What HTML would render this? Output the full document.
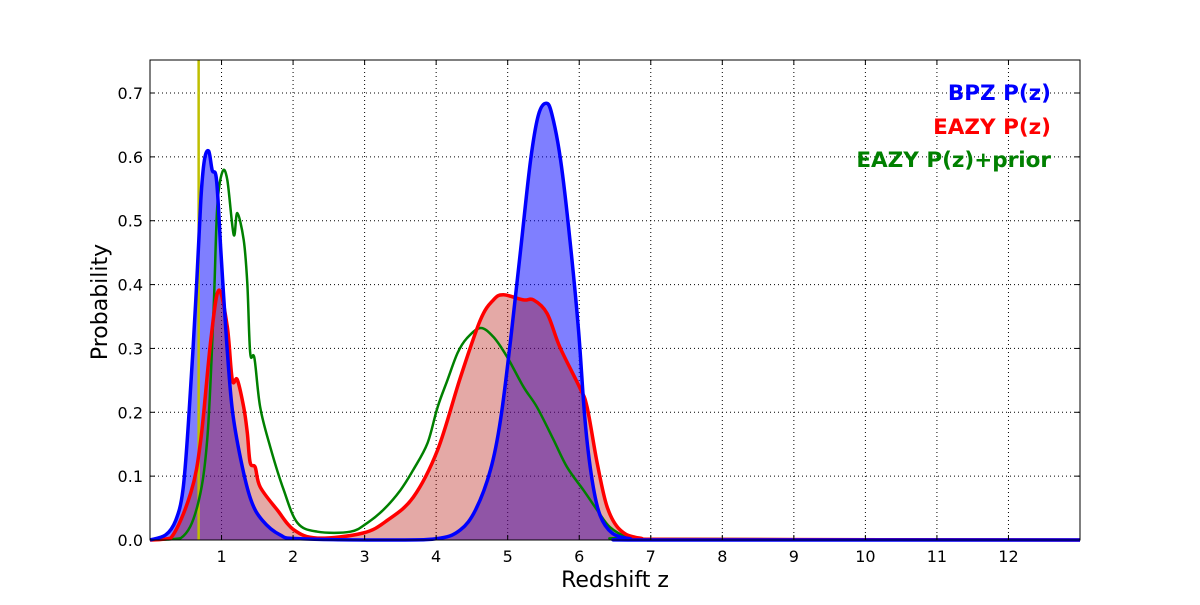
<!DOCTYPE html>
<html><head><meta charset="utf-8"><style>
body{margin:0;background:#fff;}
svg text{font-family:"DejaVu Sans","Liberation Sans",sans-serif;}
</style></head><body>
<svg id="chart" width="1200" height="600" xmlns="http://www.w3.org/2000/svg">
<rect width="1200" height="600" fill="#fff"/>
<g id="grid"></g>
<g id="fills"></g>
<g id="lines"></g>
<g id="axes"></g>
<text x="1051" y="100" text-anchor="end" font-size="21.5" font-weight="bold" fill="#0000ff">BPZ P(z)</text>
<text x="1051" y="134" text-anchor="end" font-size="21.5" font-weight="bold" fill="#ff0000">EAZY P(z)</text>
<text x="1051" y="167" text-anchor="end" font-size="21.5" font-weight="bold" fill="#008000">EAZY P(z)+prior</text>
<text x="615" y="587" text-anchor="middle" font-size="22">Redshift z</text>
<text x="107" y="302" text-anchor="middle" font-size="22" transform="rotate(-90 107 302)">Probability</text>
</svg>
<script>
const xTicks=[1,2,3,4,5,6,7,8,9,10,11,12];
const yTicks=[0,0.1,0.2,0.3,0.4,0.5,0.6,0.7];
const zMarker=0.68;
const bpzZ=[0,0.22,0.36,0.46,0.54,0.64,0.71,0.76,0.82,0.87,0.93,0.99,1.07,1.15,1.27,1.41,1.57,1.82,2.10,3.5,4.06,4.34,4.55,4.76,4.90,5.04,5.18,5.32,5.43,5.54,5.62,5.74,5.87,5.99,6.08,6.18,6.29,6.46,6.71,7.0,13];
const bpzP=[0,0.008,0.031,0.078,0.188,0.376,0.532,0.595,0.609,0.579,0.564,0.454,0.313,0.204,0.125,0.063,0.031,0.008,0.002,0,0.003,0.016,0.047,0.110,0.188,0.313,0.454,0.595,0.666,0.684,0.666,0.595,0.470,0.329,0.188,0.094,0.039,0.011,0.002,0,0];
const eazyZ=[0,0.29,0.57,0.71,0.85,0.96,1.08,1.15,1.22,1.31,1.36,1.40,1.47,1.54,1.78,2.01,2.34,2.98,3.32,3.68,4.02,4.34,4.62,4.80,4.94,5.22,5.36,5.55,5.73,6.01,6.11,6.25,6.39,6.57,6.85,7.5,13];
const eazyP=[0,0.003,0.074,0.157,0.313,0.391,0.334,0.251,0.251,0.208,0.168,0.121,0.114,0.083,0.047,0.016,0.003,0.011,0.031,0.067,0.141,0.255,0.345,0.376,0.384,0.376,0.376,0.355,0.302,0.238,0.208,0.121,0.052,0.016,0.003,0.001,0];
const priorZ=[0,0.43,0.66,0.80,0.89,0.94,1.01,1.08,1.17,1.22,1.31,1.36,1.40,1.46,1.54,1.68,1.87,2.06,2.34,2.80,3.04,3.26,3.50,3.68,3.88,4.02,4.16,4.30,4.43,4.62,4.80,4.99,5.22,5.41,5.64,5.83,6.06,6.25,6.43,6.67,6.95,13];
const priorP=[0,0.003,0.052,0.157,0.365,0.521,0.576,0.564,0.478,0.512,0.470,0.402,0.293,0.285,0.208,0.146,0.078,0.027,0.013,0.013,0.027,0.047,0.078,0.110,0.152,0.208,0.251,0.293,0.316,0.332,0.318,0.287,0.240,0.208,0.157,0.114,0.078,0.047,0.020,0.005,0.002,0];

const L=150,R=1080,T=60,B=540,XMAX=13,YMAX=0.7517;
const sx=z=>L+(R-L)*z/XMAX, sy=p=>B-(B-T)*p/YMAX;
const NS="http://www.w3.org/2000/svg";
function mk(tag,attrs,parent){const e=document.createElementNS(NS,tag);for(const k in attrs)e.setAttribute(k,attrs[k]);parent.appendChild(e);return e;}
const grid=document.getElementById('grid'),fills=document.getElementById('fills'),lines=document.getElementById('lines'),axes=document.getElementById('axes');
xTicks.forEach(t=>{
  const g=mk('line',{x1:sx(t),x2:sx(t),y1:T,y2:B,stroke:'#000','stroke-width':1,'stroke-dasharray':'1,3'},grid);
  
  
  mk('line',{x1:sx(t),x2:sx(t),y1:B,y2:B-5,stroke:'#000'},axes);
  mk('line',{x1:sx(t),x2:sx(t),y1:T,y2:T+5,stroke:'#000'},axes);
  const tx=mk('text',{x:sx(t),y:B+22,'text-anchor':'middle','font-size':16},axes);
  tx.textContent=t;
  
  
});
yTicks.forEach(t=>{
  if(t>0){const g=mk('line',{x1:L,x2:R,y1:sy(t),y2:sy(t),stroke:'#000','stroke-width':1,'stroke-dasharray':'1,3'},grid);
  
  }
  mk('line',{x1:L,x2:L+5,y1:sy(t),y2:sy(t),stroke:'#000'},axes);
  mk('line',{x1:R,x2:R-5,y1:sy(t),y2:sy(t),stroke:'#000'},axes);
  const tx=mk('text',{x:L-7,y:sy(t)+6,'text-anchor':'end','font-size':16},axes);
  tx.textContent=t.toFixed(1);
  
  
});
function curve(Z,P){
  const X=Z.map(sx),Y=P.map(sy);
  let d='M'+X[0].toFixed(1)+','+Y[0].toFixed(1);
  for(let i=0;i<X.length-1;i++){
    const x0=X[Math.max(i-1,0)],y0=Y[Math.max(i-1,0)],x3=X[Math.min(i+2,X.length-1)],y3=Y[Math.min(i+2,X.length-1)];
    let c1x=X[i]+(X[i+1]-x0)/6,c1y=Y[i]+(Y[i+1]-y0)/6,c2x=X[i+1]-(x3-X[i])/6,c2y=Y[i+1]-(y3-Y[i])/6;
    c1y=Math.min(c1y,B);c2y=Math.min(c2y,B);
    d+=' C'+c1x.toFixed(1)+','+c1y.toFixed(1)+' '+c2x.toFixed(1)+','+c2y.toFixed(1)+' '+X[i+1].toFixed(1)+','+Y[i+1].toFixed(1);
  }
  return d;
}
function area(Z,P){return curve(Z,P)+' L'+sx(Z[Z.length-1])+','+B+' L'+sx(Z[0])+','+B+' Z';}
const f1=mk('path',{d:area(bpzZ,bpzP),fill:'#0000ff','fill-opacity':0.5},fills);


const f2=mk('path',{d:area(eazyZ,eazyP),fill:'#b20a00','fill-opacity':0.35},fills);


const vl=mk('line',{x1:sx(zMarker),x2:sx(zMarker),y1:T,y2:B,stroke:'#bfbf00','stroke-width':2.5},lines);


const l3=mk('path',{d:curve(priorZ,priorP),fill:'none',stroke:'#008000','stroke-width':2.5,'stroke-linejoin':'round'},lines);


const l2=mk('path',{d:curve(eazyZ,eazyP),fill:'none',stroke:'#ff0000','stroke-width':3.5,'stroke-linejoin':'round'},lines);


const l1=mk('path',{d:curve(bpzZ,bpzP),fill:'none',stroke:'#0000ff','stroke-width':3.5,'stroke-linejoin':'round'},lines);


const fr=mk('rect',{x:L,y:T,width:R-L,height:B-T,fill:'none',stroke:'#000','stroke-width':1},axes);


</script>
</body></html>
